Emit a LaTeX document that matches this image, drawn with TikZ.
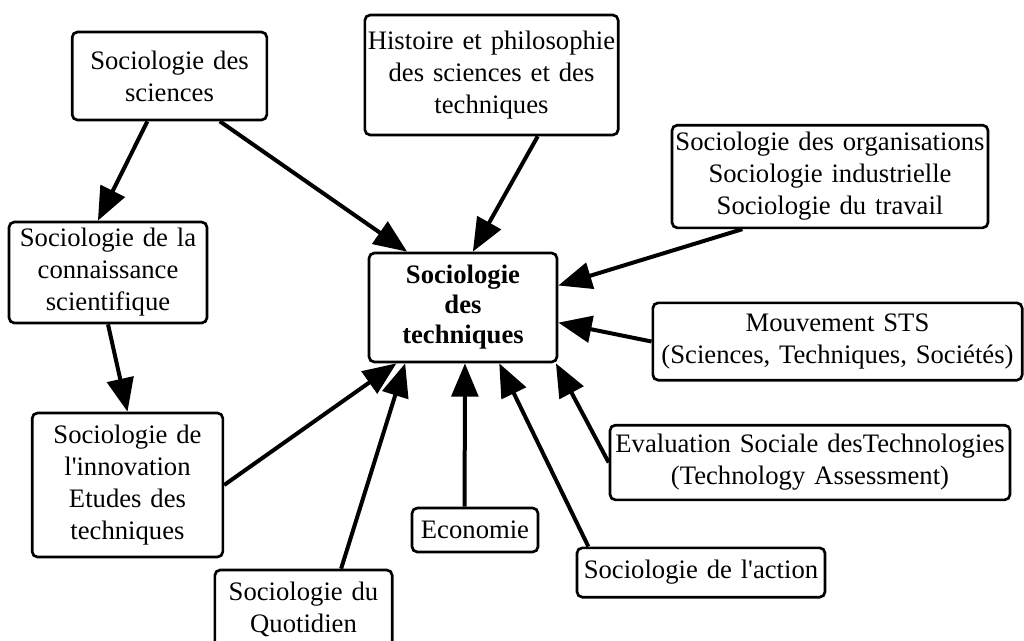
\documentclass[tikz,border=0pt]{standalone}
\usepackage{fontspec}
\setmainfont{Liberation Serif}
\usetikzlibrary{arrows.meta}
\begin{document}
\begin{tikzpicture}[x=0.75pt,y=-0.75pt,
    box/.style={draw, line width=2pt, rounded corners=4pt, inner xsep=0pt, inner ysep=0pt,
        align=center, font=\fontsize{20}{24}\selectfont},
    link/.style={-{Triangle[length=25pt,width=20pt]}, line width=3pt}]
    \clip (0,0) rectangle (1024,640);

    \node[box, text width=146pt, minimum height=66pt] (sciences) at (169.5,76) {Sociologie des\\sciences};
    \node[box, text width=148.5pt, minimum height=75.75pt] (connaissance) at (108,272.5) {Sociologie de la\\connaissance\\scientifique};
    \node[box, text width=190pt, minimum height=90pt] (histoire) at (491.5,75) {Histoire et philosophie\\des sciences et des\\techniques};
    \node[box, text width=141pt, minimum height=81.75pt, font=\fontsize{20}{22.5}\selectfont\bfseries] (techniques) at (463,307.5) {Sociologie\\des\\techniques};
    \node[box, text width=237pt, minimum height=77pt] (organisations) at (830,176.5) {Sociologie des organisations\\Sociologie industrielle\\Sociologie du travail};
    \node[box, text width=277pt, minimum height=58pt] (sts) at (837.5,341.5) {Mouvement STS\\(Sciences, Techniques, Sociétés)};
    \node[box, text width=300pt, minimum height=56pt] (evaluation) at (810,462.5) {Evaluation Sociale desTechnologies\\(Technology Assessment)};
    \node[box, text width=143pt, minimum height=108pt] (innovation) at (127.5,485) {Sociologie de\\l\textquotesingle innovation\\Etudes des\\techniques};
    \node[box, text width=94.5pt, minimum height=33pt] (economie) at (475,530) {Economie};
    \node[box, text width=186pt, minimum height=37pt] (action) at (701,572.5) {Sociologie de l\textquotesingle action};
    \node[box, text width=133pt, minimum height=58.5pt] (quotidien) at (303.5,609) {Sociologie du\\Quotidien};

    \draw[link] (sciences.-116) -- (connaissance.101);
    \draw[link] (connaissance.south) -- (innovation.north);
    \draw[link] (sciences.-42) -- (techniques.135);
    \draw[link] (histoire.-53) -- (techniques.80);
    \draw[link] (organisations.-149) -- (techniques.13.5);
    \draw[link] (sts.west) -- (techniques.-9);
    \draw[link] (evaluation.west) -- (techniques.-31);
    \draw[link] (action.167) -- (techniques.-57);
    \draw[link] (economie.114) -- (techniques.-88);
    \draw[link] (quotidien.47) -- (techniques.-136);
    \draw[link] (innovation.east) -- (techniques.-140);
\end{tikzpicture}
\end{document}
